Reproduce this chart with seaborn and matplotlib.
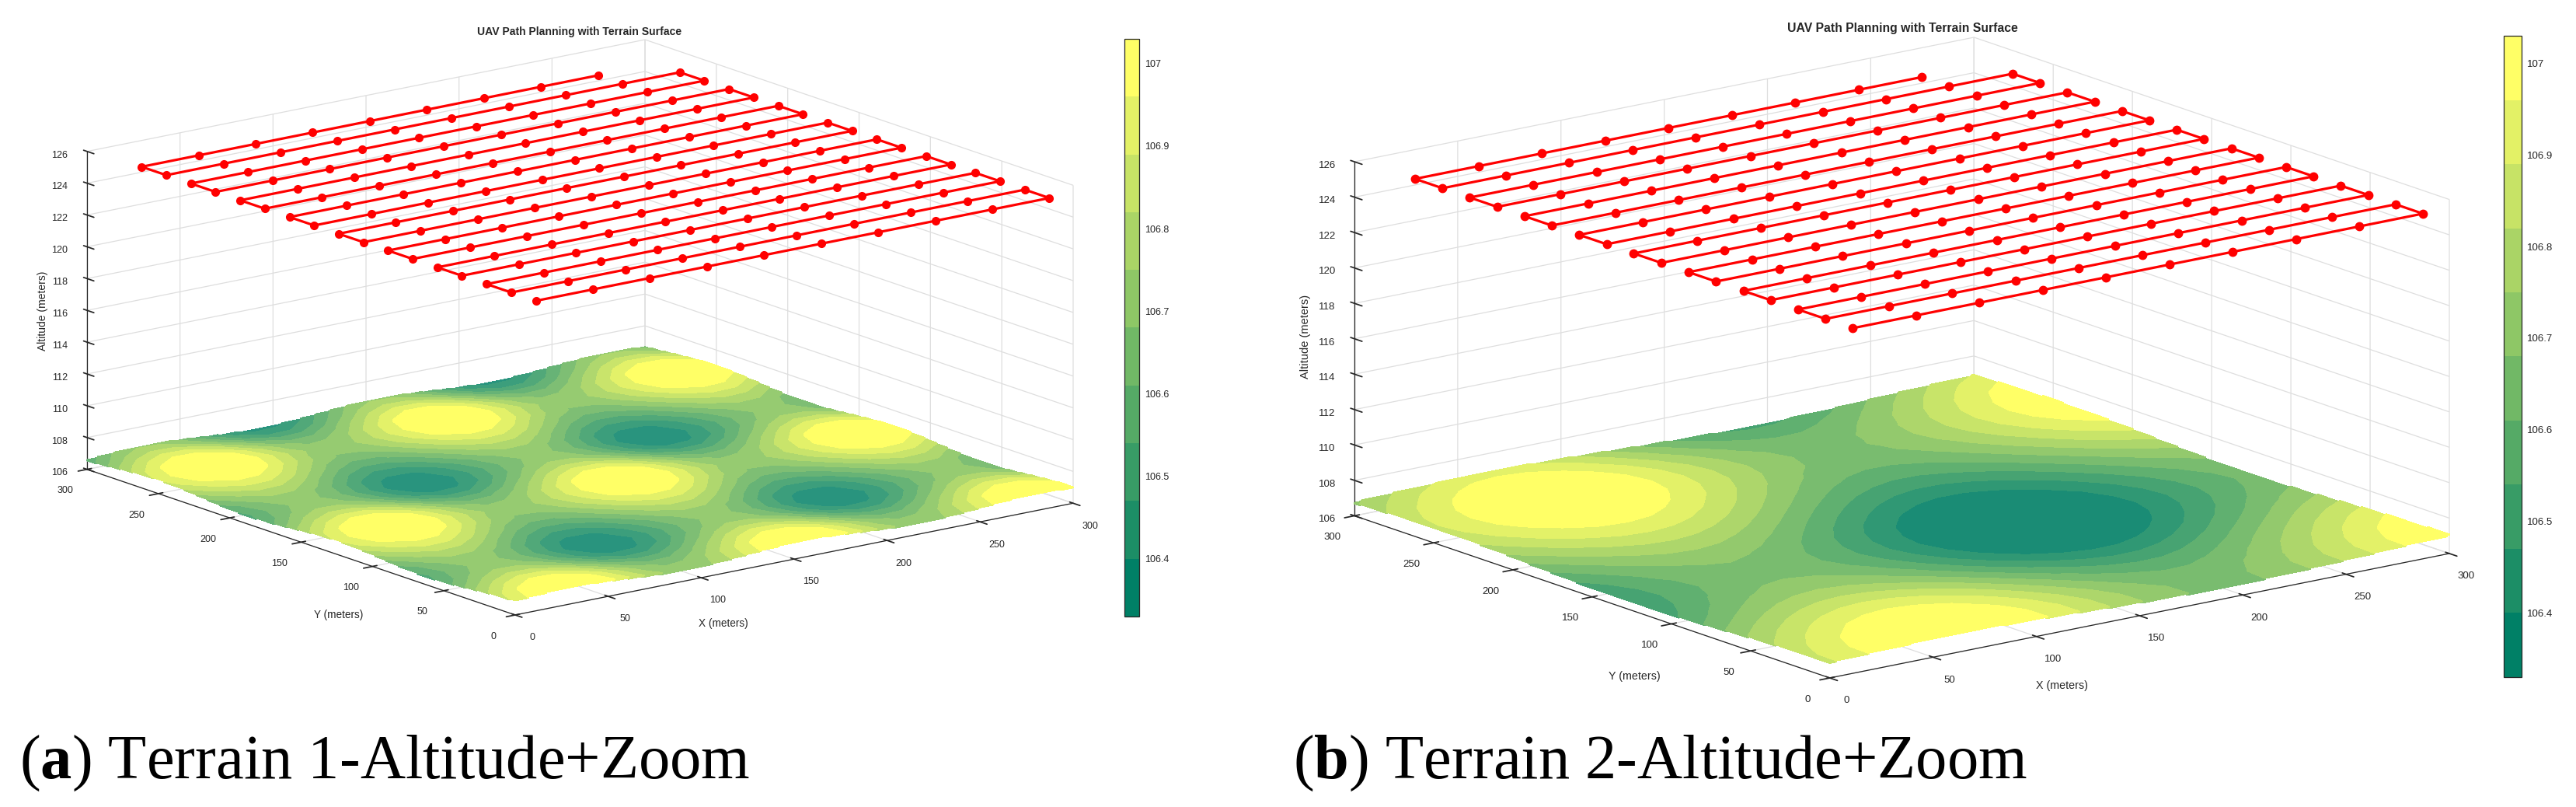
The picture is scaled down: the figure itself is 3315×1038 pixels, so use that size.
import matplotlib
matplotlib.use("Agg")
import numpy as np
import matplotlib.pyplot as plt
from matplotlib.cm import ScalarMappable
from matplotlib.colors import BoundaryNorm, ListedColormap
from mpl_toolkits.mplot3d import proj3d
import seaborn as sns

W, H = 3315, 1038

# ticks
xy_ticks = [0, 50, 100, 150, 200, 250, 300]
z_ticks = [106, 108, 110, 112, 114, 116, 118, 120, 122, 124, 126]
cbar_ticks = [106.4, 106.5, 106.6, 106.7, 106.8, 106.9, 107.0]
cbar_labels = ["106.4", "106.5", "106.6", "106.7", "106.8", "106.9", "107"]
levels = [106.33, 106.40, 106.47, 106.54, 106.61, 106.68, 106.75, 106.82, 106.89, 106.96, 107.03]

# waypoints of the lawnmower path
path_x = [19.0, 49.7, 80.4, 111.0, 141.7, 172.4, 203.1, 233.8, 264.4, 295.1]
path_y = [286.5, 269.2, 252.0, 234.7, 217.4, 200.2, 182.9, 165.6, 148.5, 131.1,
          113.9, 96.6, 79.3, 62.1, 44.8, 27.5, 10.3]
path_z = 125.0

# both terrains every 12.5 m, height above 106 m in cm
grid_m = [0, 12.5, 25, 37.5, 50, 62.5, 75, 87.5, 100, 112.5, 125, 137.5, 150, 162.5,
          175, 187.5, 200, 212.5, 225, 237.5, 250, 262.5, 275, 287.5, 300]
r0 = [90.1, 100.9, 107.2, 106.5, 99.0, 87.7, 76.9, 70.6, 71.3, 78.8, 90.1, 100.9, 107.2, 106.5, 99.0, 87.7, 76.9, 70.6, 71.3, 78.8, 90.1, 100.9, 107.2, 106.5, 99.0]
r1 = [86.5, 97.3, 103.6, 102.9, 95.4, 84.1, 73.3, 67.0, 67.7, 75.2, 86.5, 97.3, 103.6, 102.9, 95.4, 84.1, 73.3, 67.0, 67.7, 75.2, 86.5, 97.3, 103.6, 102.9, 95.4]
r2 = [77.0, 87.8, 94.1, 93.4, 85.9, 74.6, 63.8, 57.5, 58.2, 65.7, 77.0, 87.8, 94.1, 93.4, 85.9, 74.6, 63.8, 57.5, 58.2, 65.7, 77.0, 87.8, 94.1, 93.4, 85.9]
r3 = [65.4, 76.2, 82.5, 81.8, 74.3, 63.0, 52.2, 45.9, 46.6, 54.1, 65.4, 76.2, 82.5, 81.8, 74.3, 63.0, 52.2, 45.9, 46.6, 54.1, 65.4, 76.2, 82.5, 81.8, 74.3]
r4 = [55.9, 66.7, 73.0, 72.3, 64.8, 53.5, 42.7, 36.4, 37.1, 44.6, 55.9, 66.7, 73.0, 72.3, 64.8, 53.5, 42.7, 36.4, 37.1, 44.6, 55.9, 66.7, 73.0, 72.3, 64.8]
r5 = [52.3, 63.1, 69.4, 68.7, 61.2, 49.9, 39.1, 32.8, 33.5, 41.0, 52.3, 63.1, 69.4, 68.7, 61.2, 49.9, 39.1, 32.8, 33.5, 41.0, 52.3, 63.1, 69.4, 68.7, 61.2]
# the humps repeat every 125 m in y, so the rows repeat too
terrain1 = [r0, r1, r2, r3, r4, r5, r4, r3, r2, r1,
            r0, r1, r2, r3, r4, r5, r4, r3, r2, r1,
            r0, r1, r2, r3, r4]

terrain2 = [
    [91.5, 97.4, 102.7, 106.7, 109.3, 110.1, 109.1, 106.4, 102.2, 96.9, 90.9, 84.9, 79.4, 74.8, 71.6, 70.0, 70.2, 72.3, 76.0, 80.9, 86.7, 92.6, 98.5, 103.6, 107.4],
    [91.3, 97.2, 102.5, 106.5, 109.1, 109.9, 108.9, 106.2, 102.0, 96.7, 90.7, 84.7, 79.2, 74.6, 71.4, 69.8, 70.0, 72.1, 75.8, 80.7, 86.5, 92.4, 98.3, 103.4, 107.2],
    [89.0, 94.9, 100.2, 104.2, 106.8, 107.6, 106.6, 103.9, 99.7, 94.4, 88.4, 82.4, 76.9, 72.3, 69.1, 67.5, 67.7, 69.8, 73.5, 78.4, 84.2, 90.1, 96.0, 101.1, 104.9],
    [85.0, 90.9, 96.2, 100.2, 102.8, 103.6, 102.6, 99.9, 95.7, 90.4, 84.4, 78.4, 72.9, 68.3, 65.1, 63.5, 63.7, 65.8, 69.5, 74.4, 80.2, 86.1, 92.0, 97.1, 100.9],
    [79.7, 85.6, 90.9, 94.9, 97.5, 98.3, 97.3, 94.6, 90.4, 85.1, 79.1, 73.1, 67.6, 63.0, 59.8, 58.2, 58.4, 60.5, 64.2, 69.1, 74.9, 80.8, 86.7, 91.8, 95.6],
    [73.5, 79.4, 84.7, 88.7, 91.3, 92.1, 91.1, 88.4, 84.2, 78.9, 72.9, 66.9, 61.4, 56.8, 53.6, 52.0, 52.2, 54.3, 58.0, 62.9, 68.7, 74.6, 80.5, 85.6, 89.4],
    [67.0, 72.9, 78.2, 82.2, 84.8, 85.6, 84.6, 81.9, 77.7, 72.4, 66.4, 60.4, 54.9, 50.3, 47.1, 45.5, 45.7, 47.8, 51.5, 56.4, 62.2, 68.1, 74.0, 79.1, 82.9],
    [61.0, 66.9, 72.2, 76.2, 78.8, 79.6, 78.6, 75.9, 71.7, 66.4, 60.4, 54.4, 48.9, 44.3, 41.1, 39.5, 39.7, 41.8, 45.5, 50.4, 56.2, 62.1, 68.0, 73.1, 76.9],
    [56.2, 62.1, 67.4, 71.4, 74.0, 74.8, 73.8, 71.1, 66.9, 61.6, 55.6, 49.6, 44.1, 39.5, 36.3, 34.7, 34.9, 37.0, 40.7, 45.6, 51.4, 57.3, 63.2, 68.3, 72.1],
    [52.9, 58.8, 64.1, 68.1, 70.7, 71.5, 70.5, 67.8, 63.6, 58.3, 52.3, 46.3, 40.8, 36.2, 33.0, 31.4, 31.6, 33.7, 37.4, 42.3, 48.1, 54.0, 59.9, 65.0, 68.8],
    [51.4, 57.3, 62.6, 66.6, 69.2, 70.0, 69.0, 66.3, 62.1, 56.8, 50.8, 44.8, 39.3, 34.7, 31.5, 29.9, 30.1, 32.2, 35.9, 40.8, 46.6, 52.5, 58.4, 63.5, 67.3],
    [52.1, 58.0, 63.3, 67.3, 69.9, 70.7, 69.7, 67.0, 62.8, 57.5, 51.5, 45.5, 40.0, 35.4, 32.2, 30.6, 30.8, 32.9, 36.6, 41.5, 47.3, 53.2, 59.1, 64.2, 68.0],
    [54.6, 60.5, 65.8, 69.8, 72.4, 73.2, 72.2, 69.5, 65.3, 60.0, 54.0, 48.0, 42.5, 37.9, 34.7, 33.1, 33.3, 35.4, 39.1, 44.0, 49.8, 55.7, 61.6, 66.7, 70.5],
    [59.0, 64.9, 70.2, 74.2, 76.8, 77.6, 76.6, 73.9, 69.7, 64.4, 58.4, 52.4, 46.9, 42.3, 39.1, 37.5, 37.7, 39.8, 43.5, 48.4, 54.2, 60.1, 66.0, 71.1, 74.9],
    [64.6, 70.5, 75.8, 79.8, 82.4, 83.2, 82.2, 79.5, 75.3, 70.0, 64.0, 58.0, 52.5, 47.9, 44.7, 43.1, 43.3, 45.4, 49.1, 54.0, 59.8, 65.7, 71.6, 76.7, 80.5],
    [70.9, 76.8, 82.1, 86.1, 88.7, 89.5, 88.5, 85.8, 81.6, 76.3, 70.3, 64.3, 58.8, 54.2, 51.0, 49.4, 49.6, 51.7, 55.4, 60.3, 66.1, 72.0, 77.9, 83.0, 86.8],
    [77.3, 83.2, 88.5, 92.5, 95.1, 95.9, 94.9, 92.2, 88.0, 82.7, 76.7, 70.7, 65.2, 60.6, 57.4, 55.8, 56.0, 58.1, 61.8, 66.7, 72.5, 78.4, 84.3, 89.4, 93.2],
    [83.0, 88.9, 94.2, 98.2, 100.8, 101.6, 100.6, 97.9, 93.7, 88.4, 82.4, 76.4, 70.9, 66.3, 63.1, 61.5, 61.7, 63.8, 67.5, 72.4, 78.2, 84.1, 90.0, 95.1, 98.9],
    [87.6, 93.5, 98.8, 102.8, 105.4, 106.2, 105.2, 102.5, 98.3, 93.0, 87.0, 81.0, 75.5, 70.9, 67.7, 66.1, 66.3, 68.4, 72.1, 77.0, 82.8, 88.7, 94.6, 99.7, 103.5],
    [90.6, 96.5, 101.8, 105.8, 108.4, 109.2, 108.2, 105.5, 101.3, 96.0, 90.0, 84.0, 78.5, 73.9, 70.7, 69.1, 69.3, 71.4, 75.1, 80.0, 85.8, 91.7, 97.6, 102.7, 106.5],
    [91.6, 97.5, 102.8, 106.8, 109.4, 110.2, 109.2, 106.5, 102.3, 97.0, 91.0, 85.0, 79.5, 74.9, 71.7, 70.1, 70.3, 72.4, 76.1, 81.0, 86.8, 92.7, 98.6, 103.7, 107.5],
]
# past the 250 m ridge the rows come back the same way
terrain2 += [terrain2[19], terrain2[18], terrain2[17], terrain2[16]]

sns.set_theme(style="whitegrid", rc={"grid.color": "#dedede", "grid.linewidth": 0.9,
                                      "axes.edgecolor": "#262626", "axes.linewidth": 0.9,
                                      "xtick.color": "#262626", "ytick.color": "#262626",
                                      "text.color": "#262626"})
plt.rcParams["font.family"] = ["Liberation Sans", "DejaVu Sans"]
plt.rcParams["mathtext.fontset"] = "custom"
plt.rcParams["mathtext.rm"] = "Liberation Serif"
plt.rcParams["mathtext.bf"] = "Liberation Serif:bold"

summer = sns.color_palette("summer", as_cmap=True)
band_colors = [np.array(summer(i / 9)) for i in range(10)]

fig = plt.figure(figsize=(W / 100, H / 100), dpi=100, facecolor="white")


def put(x, y, s, **kw):
    kw.setdefault("ha", "center")
    kw.setdefault("va", "center")
    fig.text(x / W, 1 - y / H, s, **kw)


def path_points():
    # first row stops one waypoint short, then the rows go back and forth
    xs, ys = [], []
    for i, y in enumerate(path_y):
        row = path_x[:-1][::-1] if i == 0 else path_x
        if i > 0 and i % 2 == 0:
            row = path_x[::-1]
        xs += list(row)
        ys += [y] * len(row)
    return xs, ys


def fit_axes(ax, x_left, x_right, y_low, y_top):
    # the original is a stretched picture: place the 3d box on given pixels
    M = ax.get_proj()
    pts = [(0, 300, 106), (300, 0, 106), (0, 0, 106), (300, 300, 126)]
    n = []
    for p in pts:
        vx, vy, _ = proj3d.proj_transform(*p, M)
        n.append(ax.transAxes.inverted().transform(ax.transData.transform((vx, vy))))
    bw = (x_right - x_left) / (n[1][0] - n[0][0])
    bl = x_left - n[0][0] * bw
    bh = (y_low - y_top) / (n[3][1] - n[2][1])
    bb = (H - y_low) - n[2][1] * bh
    ax.set_position([bl / W, bb / H, bw / W, bh / H])


def panel(terrain, offset, box, tick_size, title_size, marker, wash, cbar_box, title, labels, caption):
    norm = BoundaryNorm(levels, 10)
    cmap = ListedColormap(band_colors)
    # the mesh of the original lets white through on the darker bands
    surf_cmap = ListedColormap([c + (1 - c) * wash * (1 - i / 9) for i, c in enumerate(band_colors)])
    surf_cmap = surf_cmap.with_extremes(under=surf_cmap(0), over=surf_cmap(9))

    ax = fig.add_subplot(projection="3d", proj_type="ortho")
    ax.apply_aspect = lambda position=None: None
    ax.set_facecolor("none")
    ax.view_init(elev=30, azim=-127.5)
    ax.set_box_aspect((1, 1, 1))
    ax.set_xlim(0, 300, view_margin=0)
    ax.set_ylim(0, 300, view_margin=0)
    ax.set_zlim(106, 126, view_margin=0)
    fit_axes(ax, *box)

    X, Y = np.meshgrid(grid_m, grid_m)
    Z = 106 + (np.array(terrain) + offset) / 100
    bands = ax.contourf(X, Y, Z, levels=levels, cmap=surf_cmap, norm=norm, extend="both")
    bands.set_edgecolor("face")
    bands.set_linewidth(1.2)

    xs, ys = path_points()
    ax.plot(xs, ys, [path_z] * len(xs), "-o", color="#ff0000", lw=2.3, ms=marker, zorder=10)

    ax.set_xticks(xy_ticks)
    ax.set_yticks(xy_ticks)
    ax.set_zticks(z_ticks)
    ax.tick_params(axis="x", labelsize=tick_size, pad=9)
    ax.tick_params(axis="y", labelsize=tick_size, pad=9)
    ax.tick_params(axis="z", labelsize=tick_size, pad=4)
    for a in (ax.xaxis, ax.yaxis, ax.zaxis):
        a.set_pane_color((1, 1, 1, 0))
        a.line.set_color("#262626")
        a.line.set_linewidth(0.9)
    ax.zaxis.set_ticks_position("upper")
    # altitude ticks point along y in the original, not along x
    ax.zaxis._get_tickdir = lambda position: 1

    put(*title, "UAV Path Planning with Terrain Surface", fontsize=title_size, fontweight="bold")
    put(*labels[0], "X (meters)", fontsize=tick_size + 0.8)
    put(*labels[1], "Y (meters)", fontsize=tick_size + 0.8)
    put(*labels[2], "Altitude (meters)", fontsize=tick_size + 1, rotation=90)

    x0, x1, y0, y1 = cbar_box
    cax = fig.add_axes([x0 / W, 1 - y1 / H, (x1 - x0) / W, (y1 - y0) / H])
    cb = fig.colorbar(ScalarMappable(norm=norm, cmap=cmap), cax=cax, ticks=cbar_ticks, spacing="proportional")
    cb.ax.set_yticklabels(cbar_labels)
    cb.ax.tick_params(direction="in", length=5, width=0.8, labelsize=tick_size, pad=5, color="#262626")
    cb.ax.minorticks_off()
    cb.outline.set_edgecolor("#262626")
    cb.outline.set_linewidth(0.9)
    cb.ax.grid(False)

    put(*caption[0], caption[1], family="Liberation Serif", fontsize=58, ha="left", va="baseline", color="black")


panel(terrain1, 0, (112, 1381, 791, 51), 9, 10.1, 7, 0.16, (1447, 1466, 50, 793), (746, 41),
      [(931, 802), (436, 791), (55, 400)], ((25, 1001), r"($\mathbf{a}$) Terrain 1-Altitude+Zoom"))
panel(terrain2, -4, (1743, 3152, 872, 48), 9.5, 11.3, 7.5, 0.1, (3222, 3245, 46, 871), (2448, 37),
      [(2653, 882), (2103, 870), (1680, 433)], ((1664, 1001), r"($\mathbf{b}$) Terrain 2-Altitude+Zoom"))

fig.savefig("out.png", dpi=100)
